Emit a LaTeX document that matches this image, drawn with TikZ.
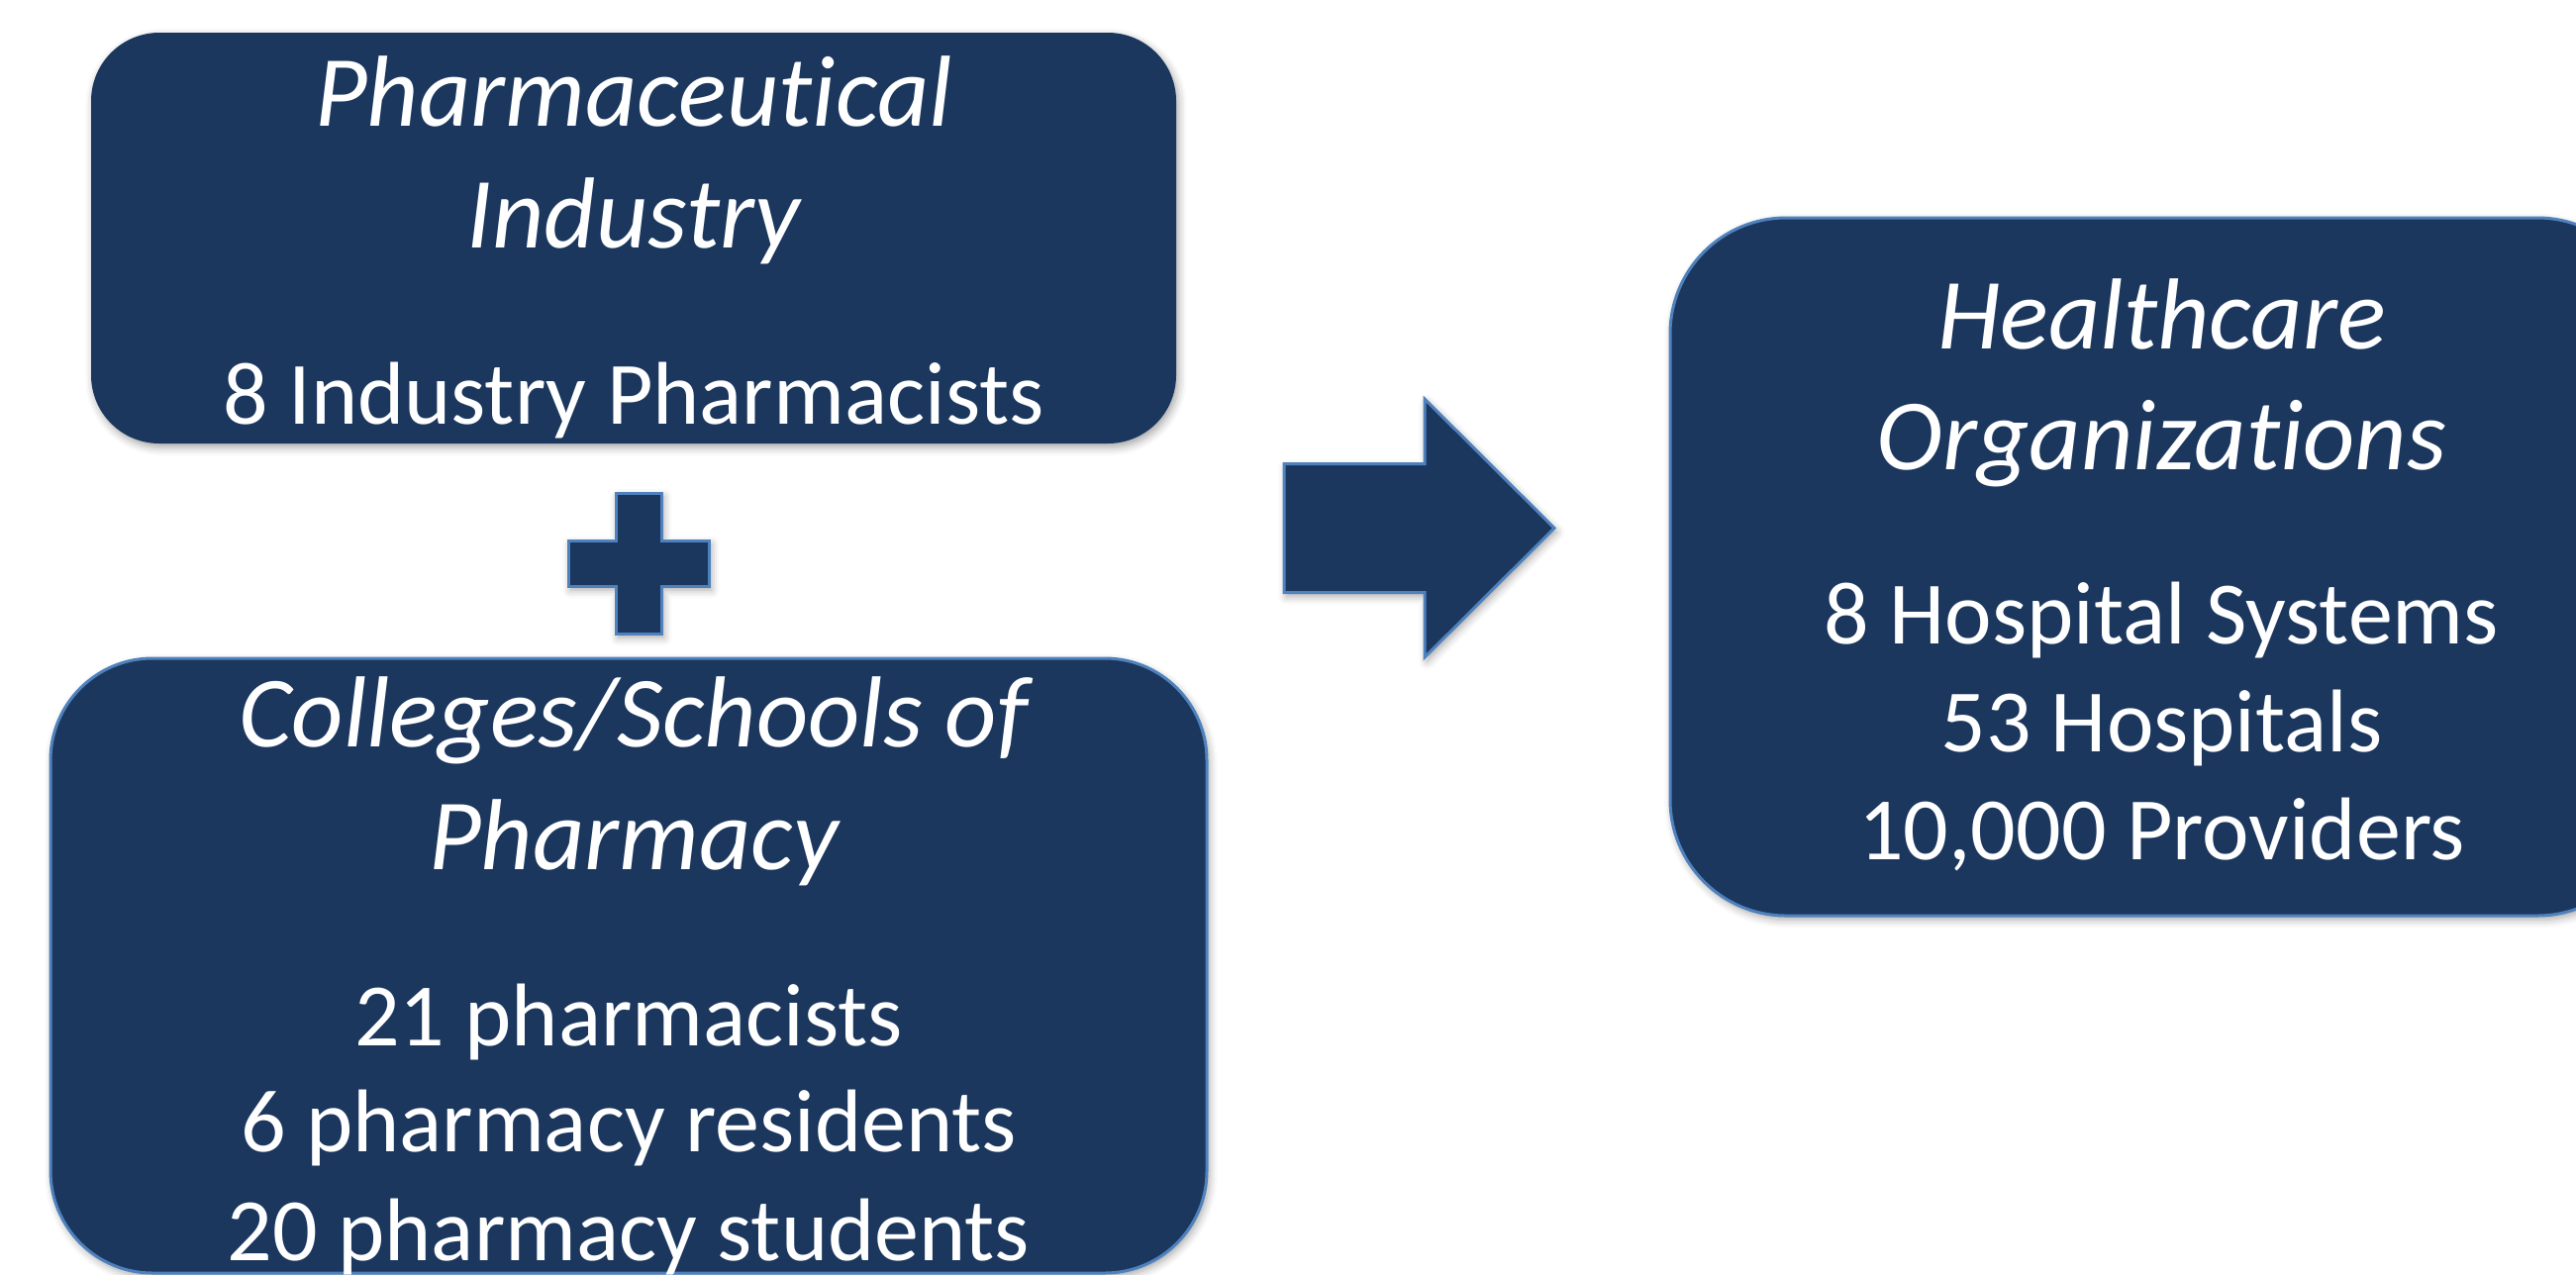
\documentclass[tikz,border=0pt]{standalone}
\usepackage{fontspec}
\setmainfont{Carlito}[Ligatures=NoCommon]
\usetikzlibrary{shadows.blur}
\definecolor{navy}{HTML}{1B375E}
\definecolor{edgeblue}{HTML}{4F81BD}

\begin{document}
\begin{tikzpicture}[x=0.25pt,y=-0.25pt,
    soft/.style={blur shadow={shadow xshift=0.6pt,shadow yshift=-1pt,shadow blur radius=2pt,shadow opacity=35}},
    panel/.style={fill=navy,soft,inner sep=0pt},
    rim/.style={draw=edgeblue,line width=0.75pt},
    head/.style={text=white,anchor=base,inner sep=0pt,font=\fontsize{25.5}{30}\selectfont\itshape},
    line/.style={text=white,anchor=base,inner sep=0pt,font=\fontsize{22.5}{27}\selectfont}]
   % Page
   \clip (0,0) rectangle (2602,1287);
   % Boxes
   \node [panel,minimum width=274pt,minimum height=103.75pt,rounded corners=17.25pt] (industry) at (640,240.5) {};
   \node [panel,rim,minimum width=292pt,minimum height=155.25pt,rounded corners=25.75pt] (schools) at (635,975.5) {};
   \node [panel,rim,minimum width=248.25pt,minimum height=176.25pt,rounded corners=29.25pt] (health) at (2183.5,572.5) {};
   % Titles
   \node [head] (industry-a) at (640,127) {Pharmaceutical};
   \node [head] (industry-b) at (640,250) {Industry};
   \node [head] (schools-a) at (640,754) {Colleges/Schools of};
   \node [head] (schools-b) at (640,878) {Pharmacy};
   \node [head] (health-a) at (2183.5,352) {Healthcare};
   \node [head] (health-b) at (2183.5,474) {Organizations};
   % Counts
   \node [line] (industry-c) at (640,428) {8 Industry Pharmacists};
   \foreach \y/\t in {1056/21 pharmacists,1163/6 pharmacy residents,1273/20 pharmacy students}
      \node [line] (schools-\y) at (635,\y) {\t};
   \foreach \y/\t in {650/8 Hospital Systems,759/53 Hospitals,868/{10,000 Providers}}
      \node [line] (health-\y) at (2183.5,\y) {\t};
   % Plus
   \coordinate (plus) at (645,569);
   \draw [panel,rim] (plus) ++(-23,-71) -- ++(46,0) -- ++(0,48) -- ++(48,0) -- ++(0,46) -- ++(-48,0)
      -- ++(0,48) -- ++(-46,0) -- ++(0,-48) -- ++(-48,0) -- ++(0,-46) -- ++(48,0) -- cycle;
   % Arrow
   \coordinate (arrow) at (1297,533.5);
   \draw [panel,rim] (arrow) ++(0,-65) -- ++(142,0) -- ++(0,-65.5) -- ++(131,130.5)
      -- ++(-131,130.5) -- ++(0,-65.5) -- ++(-142,0) -- cycle;
\end{tikzpicture}
\end{document}
